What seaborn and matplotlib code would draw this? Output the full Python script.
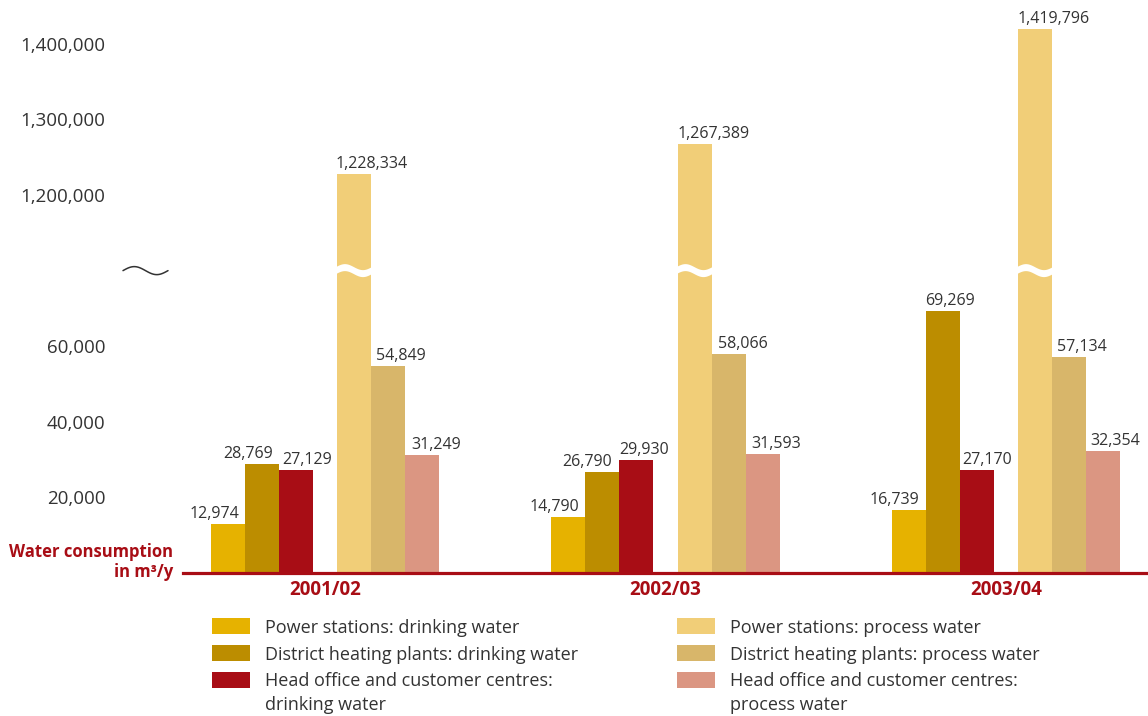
import numpy as np
import pandas as pd
import matplotlib
matplotlib.use("Agg")
import matplotlib.pyplot as plt
from matplotlib.patches import Rectangle, Polygon
from matplotlib.transforms import IdentityTransform
import seaborn as sns

# ---- data -------------------------------------------------------------
years = ["2001/02", "2002/03", "2003/04"]
series = [
    "Power stations: drinking water",
    "District heating plants: drinking water",
    "Head office and customer centres:\ndrinking water",
    "Power stations: process water",
    "District heating plants: process water",
    "Head office and customer centres:\nprocess water",
]
power_drinking = [12974, 14790, 16739]
heating_drinking = [28769, 26790, 69269]
office_drinking = [27129, 29930, 27170]
power_process = [1228334, 1267389, 1419796]
heating_process = [54849, 58066, 57134]
office_process = [31249, 31593, 32354]
y_ticks = [20000, 40000, 60000, 1200000, 1300000, 1400000]

colors = ["#E6B200", "#BC8D00", "#A80D15", "#F1CE78", "#D8B66A", "#DB9682"]
dark_red = "#A80D15"
text_col = "#333333"

# label anchoring per series and year: ("r", dx) hugs the bar's right edge,
# ("l", dx) starts at the bar's left edge; dx in pixels
label_anchor = [
    [("r", -6), ("r", -6), ("r", -7)],
    [("r", -6), ("r", -7), ("l", -1)],
    [("l", 3), ("l", 0), ("l", 2)],
    [("l", -1), ("l", 0), ("l", 0)],
    [("l", 5), ("l", 6), ("l", 5)],
    [("l", 6), ("l", 6), ("l", 4)],
]

# ---- styling ------------------------------------------------------------
sns.set_style("white")
plt.rcParams["font.family"] = ["Open Sans", "DejaVu Sans"]

W, H = 1148, 716
fig = plt.figure(figsize=(W / 100, H / 100), dpi=100)

# axes occupies the region right of the y labels, baseline at y=573 px
ax_left, ax_base = 183, 573
ax = fig.add_axes([ax_left / W, (H - ax_base) / H, (W - ax_left) / W, ax_base / H])

# broken value axis: linear up to LO, then compressed from HI upward
LO, HI, K = 80000.0, 1100000.0, 5.0


def fwd(v):
    v = np.asarray(v, dtype=float)
    return np.where(v <= LO, v, np.where(v >= HI, LO + (v - HI) / K, LO))


def inv(t):
    t = np.asarray(t, dtype=float)
    return np.where(t <= LO, t, HI + (t - LO) * K)


ax.set_yscale("function", functions=(fwd, inv))

# long-form table; bars placed around each year's centre
values = [power_drinking, heating_drinking, office_drinking,
          power_process, heating_process, office_process]
group_px = 340.5
offsets = np.array([-97, -63, -29, 29, 63, 97]) / group_px
rows = []
for s_i, (name, vals) in enumerate(zip(series, values)):
    for g_i, v in enumerate(vals):
        rows.append({"series": name, "year": years[g_i],
                     "pos": g_i + offsets[s_i], "value": v})
df = pd.DataFrame(rows)

sns.barplot(data=df, x="pos", y="value", hue="series", hue_order=series,
            palette=colors, saturation=1, native_scale=True, dodge=False,
            width=1.0, legend=False, linewidth=0, ax=ax)

ax.set_xlim(-0.417, 2.417)
ax.set_ylim(0, 1458000)

# value labels above the bars
px2pt = 72 / 100
for s_i, cont in enumerate(ax.containers):
    for g_i, (patch, v) in enumerate(zip(cont.patches, cont.datavalues)):
        side, dx = label_anchor[s_i][g_i]
        if side == "r":
            x, ha = patch.get_x() + patch.get_width(), "right"
        else:
            x, ha = patch.get_x(), "left"
        ax.annotate(f"{v:,.0f}", xy=(x, v), xytext=(dx * px2pt, 6 * px2pt),
                    textcoords="offset points", ha=ha, va="baseline",
                    fontsize=11.5, color=text_col)

# axes decoration
for side in ["top", "right"]:
    ax.spines[side].set_visible(False)
ax.spines["left"].set_position(("outward", 15))
ax.spines["left"].set_visible(False)
ax.spines["bottom"].set_color(dark_red)
ax.spines["bottom"].set_linewidth(2.3)

ax.set_yticks(y_ticks)
ax.set_yticklabels([f"{v:,}" for v in y_ticks])
ax.tick_params(axis="y", length=33, width=1.0, color=text_col, pad=8,
               labelsize=13.5, labelcolor=text_col, direction="out")
ax.set_xticks(range(len(years)))
ax.set_xticklabels(years, fontweight="bold")
ax.tick_params(axis="x", length=0, pad=5, labelsize=13.5, labelcolor=dark_red)
ax.set_xlabel("")
ax.set_ylabel("")
ax.grid(False)

# axis-break marks
fig.canvas.draw()
yb = ax.transData.transform((0, LO))[1]
t = np.linspace(0, 1, 60)

# tilde on the value axis
tx0, tx1 = 123, 168
ax.add_line(plt.Line2D(tx0 + t * (tx1 - tx0), yb + 4.0 * np.sin(2 * np.pi * t),
                       transform=IdentityTransform(), color=text_col, lw=1.1,
                       clip_on=False))

# white wavy cut through bars that cross the break
for cont in ax.containers:
    for patch, v in zip(cont.patches, cont.datavalues):
        if v >= HI:
            x0 = ax.transData.transform((patch.get_x(), 0))[0] - 1
            x1 = ax.transData.transform((patch.get_x() + patch.get_width(), 0))[0] + 1
            xs = x0 + t * (x1 - x0)
            yc = yb + 3.0 * np.sin(2 * np.pi * t)
            pts = np.concatenate([np.column_stack([xs, yc + 3.5]),
                                  np.column_stack([xs[::-1], (yc - 3.5)[::-1]])])
            ax.add_patch(Polygon(pts, closed=True, facecolor="white",
                                 edgecolor="none", transform=IdentityTransform(),
                                 clip_on=False, zorder=5))

# value-axis title in the lower-left corner
fig.text(173 / W, (H - 557) / H, "Water consumption", ha="right", va="baseline",
         fontsize=12, fontweight="bold", color=dark_red)
fig.text(173 / W, (H - 577) / H, "in m³/y", ha="right", va="baseline",
         fontsize=12, fontweight="bold", color=dark_red)

# legend in two columns below the chart
col_x = [212, 677]
baselines = [633, 660, 686, 710]
for i, (name, c) in enumerate(zip(series, colors)):
    col, row = divmod(i, 3)
    x = col_x[col]
    fig.add_artist(Rectangle((x / W, (H - 634 - 27 * row) / H), 38 / W, 16 / H,
                             transform=fig.transFigure, facecolor=c,
                             edgecolor="none"))
    for k, line in enumerate(name.split("\n")):
        fig.text((x + 53) / W, (H - baselines[row + k]) / H, line,
                 ha="left", va="baseline", fontsize=13, color=text_col)

fig.savefig("out.png", dpi=100)
